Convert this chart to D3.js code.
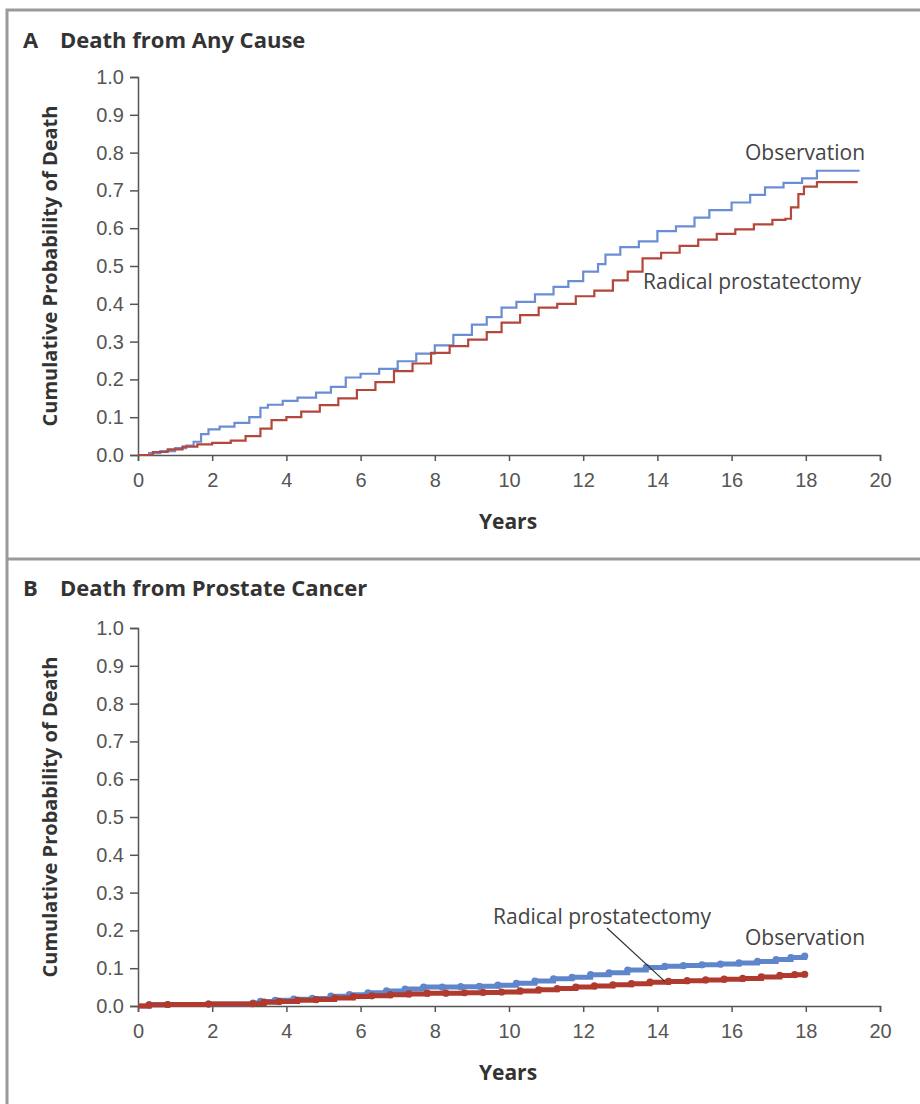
<!DOCTYPE html>
<html>
<head>
<meta charset="utf-8">
<script src="https://cdn.jsdelivr.net/npm/d3@7"></script>
<style>
  body { margin: 0; background: #fff; }
  svg { display: block; font-family: "Open Sans", sans-serif; }
  .tick text { fill: #555; font-size: 20px; }
  .axis path, .axis line { stroke: #555; stroke-width: 1.5; }
</style>
</head>
<body>
<div id="chart"></div>
<script>
// x ticks and y ticks shared by both panels
var xTicks = [0, 2, 4, 6, 8, 10, 12, 14, 16, 18, 20];
var yTicks = [0, 0.1, 0.2, 0.3, 0.4, 0.5, 0.6, 0.7, 0.8, 0.9, 1.0];

// panel A: death from any cause, [years, cumulative probability]
var anyObservation = [[0,0],[0.3,0.005],[0.6,0.01],[1.0,0.018],[1.3,0.025],[1.5,0.035],[1.7,0.055],[1.9,0.068],[2.2,0.075],[2.6,0.085],[3.0,0.10],[3.3,0.125],[3.5,0.133],[3.9,0.143],[4.3,0.152],[4.8,0.165],[5.2,0.18],[5.6,0.205],[6.0,0.215],[6.5,0.228],[7.0,0.248],[7.5,0.268],[8.0,0.29],[8.5,0.318],[9.0,0.345],[9.4,0.365],[9.8,0.39],[10.2,0.405],[10.7,0.425],[11.2,0.445],[11.6,0.46],[12.0,0.485],[12.4,0.505],[12.6,0.53],[13.0,0.55],[13.5,0.565],[14.0,0.592],[14.5,0.605],[15.0,0.628],[15.4,0.648],[16.0,0.668],[16.5,0.688],[16.9,0.708],[17.4,0.72],[17.9,0.732],[18.3,0.752],[19.45,0.752]];
var anySurgery = [[0,0],[0.4,0.008],[0.8,0.015],[1.2,0.022],[1.6,0.028],[2.0,0.032],[2.5,0.038],[2.9,0.05],[3.3,0.07],[3.6,0.092],[4.0,0.10],[4.4,0.115],[4.9,0.132],[5.4,0.15],[5.9,0.172],[6.4,0.193],[6.9,0.222],[7.4,0.242],[7.9,0.27],[8.4,0.288],[8.9,0.305],[9.4,0.325],[9.8,0.35],[10.3,0.37],[10.8,0.39],[11.3,0.40],[11.8,0.42],[12.3,0.435],[12.8,0.462],[13.2,0.485],[13.6,0.52],[14.1,0.535],[14.6,0.553],[15.1,0.57],[15.6,0.585],[16.1,0.597],[16.6,0.61],[17.1,0.622],[17.45,0.625],[17.6,0.655],[17.8,0.69],[17.95,0.71],[18.3,0.722],[19.4,0.722]];

// panel B: death from prostate cancer
var pcObservation = [[0,0],[0.3,0.003],[0.8,0.004],[1.9,0.005],[3.1,0.008],[3.3,0.012],[3.7,0.015],[4.2,0.018],[4.7,0.02],[5.2,0.026],[5.7,0.03],[6.2,0.035],[6.7,0.04],[7.2,0.045],[7.7,0.05],[8.2,0.05],[8.7,0.051],[9.2,0.052],[9.7,0.055],[10.2,0.06],[10.7,0.066],[11.2,0.072],[11.7,0.076],[12.2,0.083],[12.7,0.088],[13.2,0.095],[13.7,0.102],[14.2,0.105],[14.7,0.107],[15.2,0.109],[15.7,0.111],[16.2,0.114],[16.7,0.118],[17.2,0.123],[17.6,0.128],[17.97,0.132]];
var pcSurgery = [[0,0],[0.3,0.003],[0.8,0.004],[1.9,0.005],[3.1,0.006],[3.4,0.01],[3.8,0.012],[4.3,0.015],[4.8,0.017],[5.3,0.021],[5.8,0.025],[6.3,0.027],[6.8,0.03],[7.3,0.032],[7.8,0.034],[8.3,0.034],[8.8,0.035],[9.3,0.036],[9.8,0.037],[10.3,0.04],[10.8,0.043],[11.3,0.046],[11.8,0.05],[12.3,0.053],[12.8,0.056],[13.3,0.059],[13.8,0.063],[14.3,0.065],[14.8,0.067],[15.3,0.069],[15.8,0.071],[16.3,0.073],[16.8,0.077],[17.3,0.081],[17.7,0.083],[17.97,0.084]];

var blue = '#6a8dd3', red = '#b4463a';

var svg = d3.select('#chart').append('svg')
    .attr('width', 920).attr('height', 1104);

// frame
svg.append('path')
    .attr('d', 'M7,1104 V10 H920 M7,559 H920')
    .attr('fill', 'none').attr('stroke', '#9a9a9a').attr('stroke-width', 3);

function panel(cfg){
    var x = d3.scaleLinear().domain([0, 20]).range([138, 880]);
    var y = d3.scaleLinear().domain([0, 1]).range([cfg.y0, cfg.y0 - 378]);
    var g = svg.append('g');

    g.append('text').attr('x', 23).attr('y', cfg.titleY)
        .attr('font-size', 22).attr('font-weight', 700).attr('fill', '#333')
        .text(cfg.letter);
    g.append('text').attr('x', 60).attr('y', cfg.titleY)
        .attr('font-size', 22).attr('font-weight', 700).attr('fill', '#333')
        .text(cfg.title);

    g.append('g').attr('class', 'axis')
        .attr('transform', 'translate(0,' + cfg.y0 + ')')
        .call(d3.axisBottom(x).tickValues(xTicks).tickSize(6).tickPadding(12));
    g.append('g').attr('class', 'axis')
        .attr('transform', 'translate(138,0)')
        .call(d3.axisLeft(y).tickValues(yTicks).tickSize(8).tickPadding(6).tickFormat(d3.format('.1f')));

    g.append('text')
        .attr('transform', 'translate(50,' + (cfg.y0 - 189) + ') rotate(-90)')
        .attr('text-anchor', 'middle').attr('dy', '0.35em')
        .attr('font-size', 20).attr('font-weight', 700).attr('fill', '#333')
        .text('Cumulative Probability of Death');
    g.append('text').attr('x', 508).attr('y', cfg.y0 + 74)
        .attr('text-anchor', 'middle')
        .attr('font-size', 21).attr('font-weight', 700).attr('fill', '#333')
        .text('Years');

    var line = d3.line()
        .x(function(d){ return x(d[0]); })
        .y(function(d){ return y(d[1]); })
        .curve(d3.curveStepAfter);

    cfg.series.forEach(function(s){
        g.append('path').datum(s.data)
            .attr('fill', 'none').attr('stroke', s.color)
            .attr('stroke-width', cfg.width)
            .attr('d', line);
        if (cfg.marks){
            g.selectAll(null).data(s.data.slice(1)).enter().append('circle')
                .attr('cx', function(d){ return x(d[0]); })
                .attr('cy', function(d){ return y(d[1]); })
                .attr('r', 3.6).attr('fill', s.color);
        }
    });

    cfg.labels.forEach(function(l){
        g.append('text').attr('x', l.x).attr('y', l.y)
            .attr('font-size', 21).attr('fill', '#444')
            .text(l.text);
    });
    return {x: x, y: y, g: g};
}

panel({
    letter: 'A', title: 'Death from Any Cause', titleY: 48, y0: 455, width: 2.2,
    series: [{data: anyObservation, color: blue}, {data: anySurgery, color: red}],
    labels: [{x: 745, y: 160, text: 'Observation'}, {x: 643, y: 289, text: 'Radical prostatectomy'}]
});

var pb = panel({
    letter: 'B', title: 'Death from Prostate Cancer', titleY: 596, y0: 1006, width: 5, marks: true,
    series: [{data: pcObservation, color: '#5f86cb'}, {data: pcSurgery, color: '#b03a2e'}],
    labels: [{x: 493, y: 924, text: 'Radical prostatectomy'}, {x: 745, y: 945, text: 'Observation'}]
});

// leader line from label to the surgery curve
pb.g.append('line')
    .attr('x1', 607).attr('y1', 928)
    .attr('x2', pb.x(14.2)).attr('y2', pb.y(0.065))
    .attr('stroke', '#333').attr('stroke-width', 1.2);
</script>
</body>
</html>
